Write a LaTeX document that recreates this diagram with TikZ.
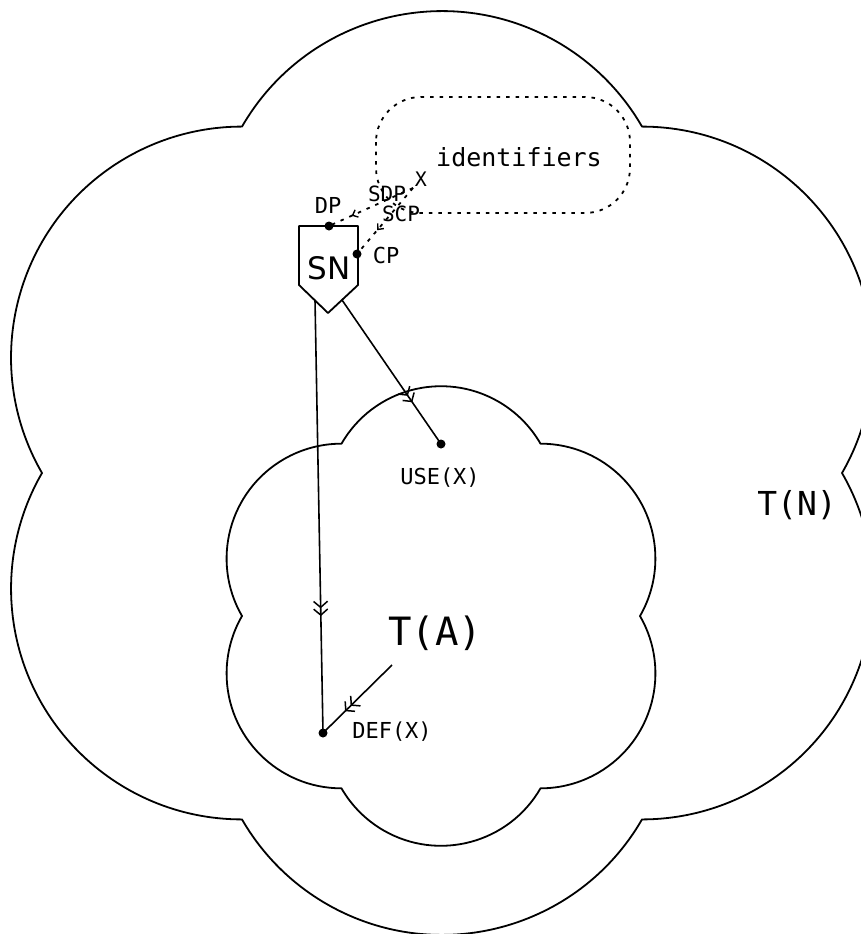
\documentclass[tikz,border=0pt]{standalone}
\usepackage{fontspec}
\newfontfamily\plotfont{DejaVu Sans Mono}
\newfontfamily\plotsans{DejaVu Sans}
\usetikzlibrary{arrows.meta,decorations.markings}
\begin{document}
\begin{tikzpicture}[x=1pt,y=-1pt,
  outline/.style={line width=1.8pt, line join=round},
  link/.style={line width=1.6pt},
  dotline/.style={line width=1.8pt, dash pattern=on 3.5pt off 6pt},
  spot/.style={circle, fill=black, inner sep=0pt, minimum size=9pt},
  lbl/.style={font=\plotfont\fontsize{#1}{#1}\selectfont, inner sep=0pt},
  dblarrow/.style={postaction={decorate}, decoration={markings,
      mark=at position #1 with {\arrow{Straight Barb[length=6pt,width=14pt,line width=1.5pt] Straight Barb[length=6pt,width=14pt,line width=1.5pt]}}}},
  tiparrow/.style={postaction={decorate}, decoration={markings,
      mark=at position #1 with {\arrow{Straight Barb[length=4.5pt,width=8pt,line width=1.4pt]}}}}
]
\useasboundingbox (0,0) rectangle (861,934);
\fill[white] (0,0) rectangle (861,934);
\clip (0,0) rectangle (861,934);

% outer region T(N): six-lobed cloud
\draw[outline] (42,473)
  \foreach \s/\e in {-210/-90,-150/-30,-90/30,-30/90,30/150,90/210}
    { arc[start angle=\s, end angle=\e, radius=230.94] } -- cycle;

% inner region T(A): same cloud at half size
\draw[outline] (242,616)
  \foreach \s/\e in {-210/-90,-150/-30,-90/30,-30/90,30/150,90/210}
    { arc[start angle=\s, end angle=\e, radius=114.89] } -- cycle;

% identifier pool
\draw[dotline, rounded corners=45pt] (376,97) rectangle (630,213);

% SN block
\draw[outline] (299,226) -- (358,226) -- (358,285) -- (328,313) -- (299,285) -- cycle;
\node[font=\plotsans\fontsize{31}{31}\selectfont, inner sep=0pt] (sn) at (329,268) {SN};
\coordinate (snA) at (315,300);
\coordinate (snB) at (342,300);

% points
\node[spot] (dp) at (329,226) {};
\node[spot] (cp) at (357,254) {};
\node[spot] (use) at (441,444) {};
\node[spot] (def) at (323,733) {};
\coordinate (xsrc) at (413,188);
\coordinate (defsrc) at (392,665);

% connectors
\draw[link, dblarrow=0.73] (snA) -- (def.center);
\draw[link, dblarrow=0.71] (snB) -- (use.center);
\draw[link, dblarrow=0.68] (defsrc) -- (def.center);
\draw[dotline, tiparrow=0.73] (xsrc) -- (dp.center);
\draw[dotline, tiparrow=0.64] (xsrc) -- (cp.center);

% labels
\node[lbl=25] (ids) at (519,157) {identifiers};
\node[lbl=20] (xl) at (421,179) {X};
\node[lbl=21] (sdp) at (387,194) {SDP};
\node[lbl=21] (scp) at (401,214) {SCP};
\node[lbl=22] (dpl) at (328,205) {DP};
\node[lbl=22] (cpl) at (386,255) {CP};
\node[lbl=22] (usel) at (440,478) {USE(X)};
\node[lbl=22] (defl) at (392,732) {DEF(X)};
\node[lbl=39] (ta) at (435,633) {T(A)};
\node[lbl=33] (tn) at (797,505) {T(N)};
\end{tikzpicture}
\end{document}
